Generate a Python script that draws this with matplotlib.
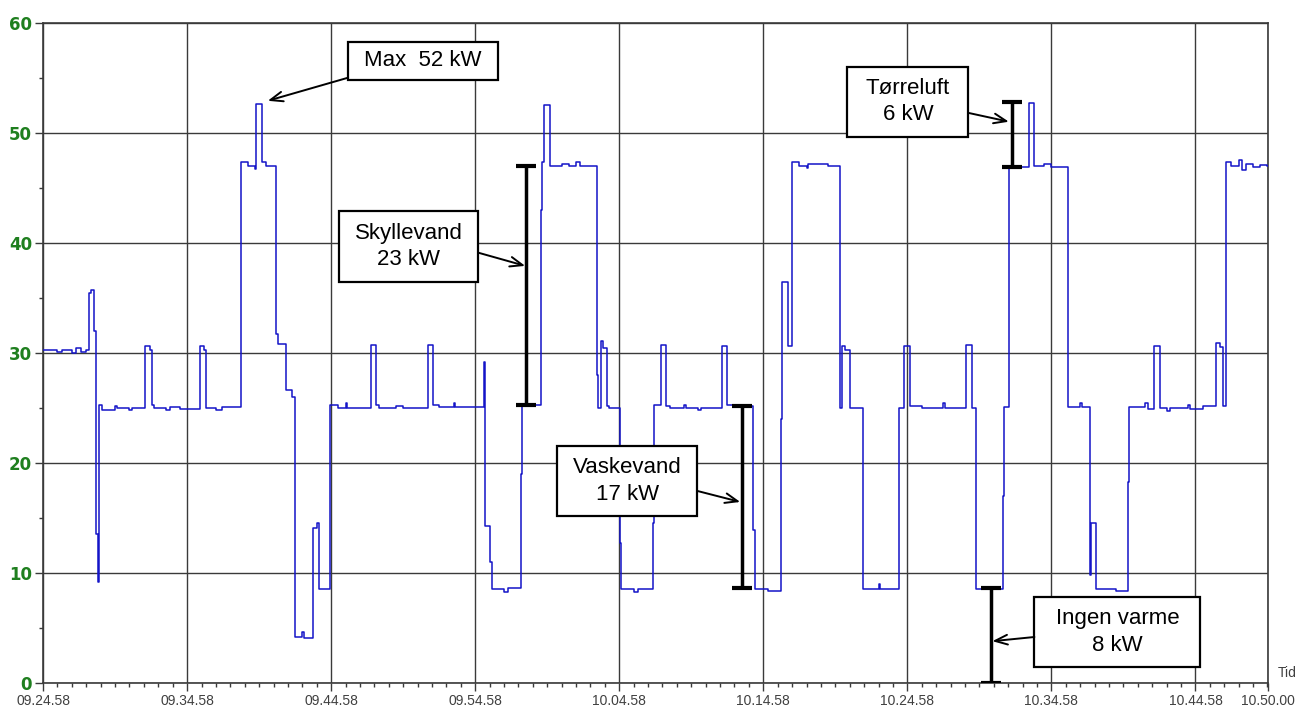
import matplotlib.pyplot as plt
from matplotlib.patches import Rectangle
from matplotlib.ticker import MultipleLocator

# minutes after 09.24.58, power in kW (step series, value holds until next time)
minutes = [0.0, 1.0, 1.3, 2.0, 2.3, 2.6, 3.0, 3.22, 3.3, 3.55, 3.7, 3.82, 3.88, 4.1, 5.0, 5.1, 6.0, 6.2,
           7.1, 7.45, 7.55, 7.7, 8.5, 8.8, 9.5, 10.88, 11.2, 11.32, 12.0, 12.4,
           13.77, 14.2, 14.7, 14.78, 15.2, 15.5, 16.2, 16.3, 16.85, 17.3, 17.52, 18.0, 18.1,
           18.77, 19.0, 19.19, 19.93, 20.5, 21.0, 21.1, 22.8, 23.1, 23.3, 24.5, 25.0,
           26.75, 27.1, 27.5, 28.5, 28.6, 30.62, 30.7, 31.05, 31.2, 32.0, 32.3, 33.16, 33.25,
           34.55, 34.62, 34.78, 35.17, 36.0, 36.5, 37.0, 37.3, 38.47, 38.55, 38.75, 38.9,
           39.16, 39.3, 40.02, 40.1, 41.0, 41.3, 42.37, 42.42, 42.88, 43.27, 43.5, 44.5, 44.6,
           45.5, 45.7, 47.12, 47.5, 48.0, 49.26, 49.4, 50.3, 51.25, 51.3, 51.7, 51.97,
           52.5, 53.0, 53.1, 54.5, 55.29, 55.45, 55.7, 56.03, 56.91, 58.0, 58.1, 59.42,
           59.8, 60.16, 61.0, 62.5, 62.6, 64.1, 64.5, 64.75, 66.64, 66.7, 67.06, 68.45, 68.77,
           69.5, 70.0, 71.16, 72.0, 72.1, 72.66, 72.75, 73.13, 74.5, 75.32, 75.4, 76.5, 76.7,
           77.1, 77.57, 78.0, 78.2, 79.5, 79.6, 80.5, 81.46, 81.7, 81.92, 82.1, 82.5, 83.0,
           83.2, 83.5, 84.0, 84.5, 85.0]
kw = [30.3, 30.1, 30.3, 30.0, 30.4, 30.1, 30.3, 35.4, 35.7, 32.0, 13.5, 9.2, 25.3, 24.8, 25.2, 25.0, 24.8, 25.0,
      30.6, 30.3, 25.3, 25.0, 24.8, 25.1, 24.9, 30.6, 30.3, 25.0, 24.8, 25.1,
      47.3, 47.0, 46.7, 52.6, 47.3, 47.0, 31.7, 30.8, 26.6, 26.0, 4.2, 4.6, 4.1,
      14.1, 14.5, 8.5, 25.3, 25.0, 25.4, 25.0, 30.7, 25.3, 25.0, 25.2, 25.0,
      30.7, 25.3, 25.1, 25.4, 25.1, 29.2, 14.3, 11.0, 8.5, 8.3, 8.6, 19.0, 25.3,
      43.0, 47.3, 52.5, 47.0, 47.2, 47.0, 47.3, 47.0, 28.0, 25.0, 31.1, 30.4,
      25.2, 25.0, 12.7, 8.5, 8.3, 8.5, 14.5, 25.3, 30.7, 25.2, 25.0, 25.3, 25.0,
      24.8, 25.0, 30.6, 25.3, 25.2, 13.9, 8.5, 8.4, 24.0, 36.4, 30.6, 47.3,
      47.0, 46.8, 47.2, 47.0, 25.0, 30.6, 30.3, 25.0, 8.5, 9.0, 8.5, 25.0,
      30.6, 25.2, 25.0, 25.4, 25.0, 30.7, 25.0, 8.5, 17.0, 25.1, 46.9, 52.7, 47.0,
      47.2, 46.9, 25.1, 25.4, 25.1, 9.8, 14.5, 8.5, 8.4, 18.3, 25.1, 25.4, 24.9,
      30.6, 25.0, 24.7, 25.0, 25.3, 24.9, 25.2, 30.9, 30.5, 25.2, 47.3, 47.0, 47.5,
      46.6, 47.2, 46.9, 47.1, 47.0]

tick_minutes = [0, 10, 20, 30, 40, 50, 60, 70, 80, 85.033]
tick_labels = ['09.24.58', '09.34.58', '09.44.58', '09.54.58', '10.04.58',
               '10.14.58', '10.24.58', '10.34.58', '10.44.58', '10.50.00']

# measured ranges: (label, minute, low kW, high kW)
ranges = [('Skyllevand', 33.54, 25.3, 47.0),
          ('Vaskevand', 48.54, 8.6, 25.2),
          ('Tørreluft', 67.29, 46.9, 52.8),
          ('Ingen varme', 65.83, 0.0, 8.6)]

fig = plt.figure(figsize=(12.97, 7.08), dpi=100)
ax = fig.add_axes([0.0332, 0.0353, 0.9444, 0.9327])

grid_col = '#3a3a3a'
for t in tick_minutes:
    ax.axvline(t, color=grid_col, lw=1.0, zorder=1)
for v in range(0, 61, 10):
    ax.axhline(v, color=grid_col, lw=1.0, zorder=1)

ax.step(minutes + [85.033], kw + [kw[-1]], where='post', color='#1414c8', lw=1.1, zorder=3)

ax.set_xlim(0, 85.033)
ax.set_ylim(0, 60)
ax.set_xticks(tick_minutes)
ax.set_xticklabels(tick_labels, fontsize=10, color='#404040', family='Liberation Sans')
ax.xaxis.set_minor_locator(MultipleLocator(1))
ax.set_yticks(range(0, 61, 10))
ax.set_yticklabels([str(v) for v in range(0, 61, 10)], fontsize=12, fontweight='bold',
                   color='#1f7f1f', family='DejaVu Sans')
ax.yaxis.set_minor_locator(MultipleLocator(5))
ax.tick_params(axis='both', which='major', length=6, width=1, color=grid_col, pad=2)
ax.tick_params(axis='both', which='minor', length=3, width=1, color=grid_col)
for s in ax.spines.values():
    s.set_color(grid_col)
    s.set_linewidth(1.2)

ax.text(1.008, 0.004, 'Tid', transform=ax.transAxes, fontsize=10, color='#404040',
        family='Liberation Sans', va='bottom', ha='left', clip_on=False)

# range bars
for name, t, lo, hi in ranges:
    ax.plot([t, t], [lo, hi], color='black', lw=2.5, zorder=4, solid_capstyle='butt')
    for v in (lo, hi):
        ax.plot([t - 0.7, t + 0.7], [v, v], color='black', lw=3, zorder=4, solid_capstyle='butt')

# boxes: (text, x0, x1, y0, y1, arrow start, arrow end)
boxes = [('Max  52 kW', 21.18, 31.6, 54.82, 58.27, (21.18, 55.0), (15.6, 52.9)),
         ('Skyllevand\n23 kW', 20.56, 30.21, 36.45, 42.9, (30.21, 39.1), (33.47, 37.9)),
         ('Vaskevand\n17 kW', 35.69, 45.42, 15.18, 21.55, (45.42, 17.45), (48.4, 16.45)),
         ('Tørreluft\n6 kW', 55.83, 64.24, 49.64, 56.0, (64.24, 51.8), (67.05, 51.0)),
         ('Ingen varme\n8 kW', 68.82, 80.35, 1.45, 7.82, (68.82, 4.18), (65.9, 3.8))]
for text, x0, x1, y0, y1, a0, a1 in boxes:
    ax.add_patch(Rectangle((x0, y0), x1 - x0, y1 - y0, facecolor='white',
                           edgecolor='black', lw=1.6, zorder=5))
    ax.text((x0 + x1) / 2, (y0 + y1) / 2, text, ha='center', va='center', fontsize=16,
            family='Liberation Sans', linespacing=1.35, zorder=6)
    ax.annotate('', xy=a1, xytext=a0,
                arrowprops=dict(arrowstyle='->,head_length=0.9,head_width=0.35',
                                color='black', lw=1.4, shrinkA=0, shrinkB=0), zorder=6)

fig.savefig('out.png', dpi=100, facecolor='white')
